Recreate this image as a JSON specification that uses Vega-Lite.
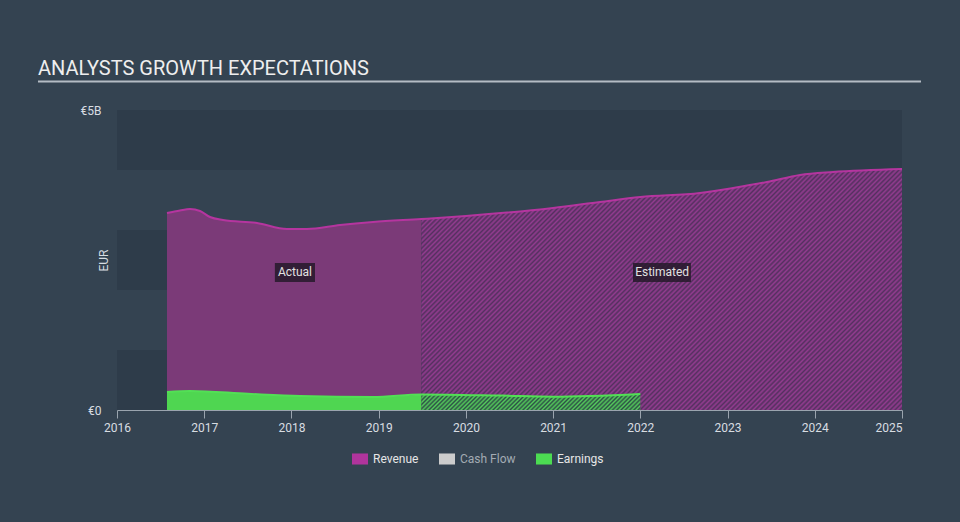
{
  "$schema": "https://vega.github.io/schema/vega-lite/v6.json",
  "width": 785,
  "height": 300,
  "autosize": {"type": "none"},
  "padding": {"left": 117, "top": 110, "right": 58, "bottom": 112},
  "background": "#344351",
  "config": {
    "view": {"stroke": null},
    "font": "Roboto",
    "axis": {
      "grid": false,
      "domainColor": "#9aa4ae",
      "tickColor": "#9aa4ae",
      "labelColor": "#d8dde2",
      "labelFont": "Roboto",
      "labelFontSize": 12,
      "titleFont": "Roboto",
      "titleFontSize": 12,
      "titleFontWeight": "normal",
      "titleColor": "#d8dde2"
    },
    "legend": {
      "orient": "none",
      "legendX": 235,
      "legendY": 341,
      "direction": "horizontal",
      "symbolType": "M-1,-0.69H1V0.69H-1Z",
      "symbolSize": 256,
      "symbolStrokeWidth": 0,
      "symbolOpacity": 1,
      "labelFont": "Roboto",
      "labelFontSize": 12,
      "labelColor": "#e6e6e6",
      "labelOffset": 5,
      "columnPadding": 20
    }
  },
  "title": {
    "text": "ANALYSTS GROWTH EXPECTATIONS",
    "anchor": "start",
    "frame": "group",
    "dx": -79,
    "offset": 2,
    "font": "Roboto",
    "fontSize": 20,
    "fontWeight": "normal",
    "color": "#eeeeee"
  },
  "datasets": {
    "bands": [
      {"year": 2016, "year2": 2025, "v": 0, "v2": 1},
      {"year": 2016, "year2": 2025, "v": 2, "v2": 3},
      {"year": 2016, "year2": 2025, "v": 4, "v2": 5}
    ],
    "rev": [
      {"year": 2016.573, "v": 3.283},
      {"year": 2016.722, "v": 3.325},
      {"year": 2016.837, "v": 3.35},
      {"year": 2016.952, "v": 3.317},
      {"year": 2017.066, "v": 3.217},
      {"year": 2017.215, "v": 3.167},
      {"year": 2017.605, "v": 3.117},
      {"year": 2017.949, "v": 3.017},
      {"year": 2018.178, "v": 3.017},
      {"year": 2018.557, "v": 3.083},
      {"year": 2018.935, "v": 3.133},
      {"year": 2019.49, "v": 3.183},
      {"year": 2020.0, "v": 3.233},
      {"year": 2021.0, "v": 3.367},
      {"year": 2021.538, "v": 3.467},
      {"year": 2022.0, "v": 3.55},
      {"year": 2022.684, "v": 3.617},
      {"year": 2023.063, "v": 3.7},
      {"year": 2023.453, "v": 3.8},
      {"year": 2023.831, "v": 3.917},
      {"year": 2024.209, "v": 3.967},
      {"year": 2025.0, "v": 4.017}
    ],
    "earn": [
      {"year": 2016.573, "v": 0.3},
      {"year": 2016.837, "v": 0.317},
      {"year": 2017.5, "v": 0.27},
      {"year": 2018.1, "v": 0.233},
      {"year": 2018.935, "v": 0.217},
      {"year": 2019.49, "v": 0.26},
      {"year": 2020.4, "v": 0.24},
      {"year": 2021.0, "v": 0.222},
      {"year": 2022.0, "v": 0.267}
    ],
    "boxes": [
      {"year": 2017.81, "year2": 2018.27, "v": 2.45, "v2": 2.133},
      {"year": 2021.916, "year2": 2022.58, "v": 2.45, "v2": 2.133}
    ],
    "labels": [
      {"year": 2018.04, "v": 2.3, "text": "Actual"},
      {"year": 2022.25, "v": 2.3, "text": "Estimated"}
    ],
    "rule": [
      {"year": 2015.094, "year2": 2025.218, "v": 5.475}
    ],
    "legend": [
      {"year": 2016, "v": 0, "series": "Revenue"}
    ]
  },
  "encoding": {
    "x": {
      "field": "year",
      "type": "quantitative",
      "title": null,
      "scale": {"domain": [2016, 2025], "nice": false, "zero": false},
      "axis": {
        "values": [2016, 2017, 2018, 2019, 2020, 2021, 2022, 2023, 2024, 2025],
        "format": "d",
        "tickSize": 8,
        "labelPadding": 4,
        "labelFlush": false,
        "labelAlign": {"condition": {"test": "datum.value == 2025", "value": "right"}, "value": "center"}
      }
    },
    "y": {
      "field": "v",
      "type": "quantitative",
      "title": "EUR",
      "scale": {"domain": [0, 5], "nice": false, "zero": true},
      "axis": {
        "values": [0, 5],
        "labelExpr": "datum.value == 0 ? '€0' : '€' + datum.value + 'B'",
        "domain": false,
        "ticks": false,
        "labelPadding": 16,
        "titleX": -14,
        "titleY": 150,
        "titleAngle": 270,
        "titleBaseline": "middle"
      }
    }
  },
  "layer": [
    {
      "data": {"name": "bands"},
      "mark": {"type": "rect", "fill": "#2e3c4a"},
      "encoding": {
        "x2": {"field": "year2"},
        "y2": {"field": "v2"}
      }
    },
    {
      "data": {"name": "rev"},
      "transform": [{"filter": "datum.year <= 2019.49"}],
      "mark": {"type": "area", "interpolate": "monotone", "fill": "#7b3a78"}
    },
    {
      "data": {"name": "rev"},
      "transform": [{"filter": "datum.year >= 2019.49"}],
      "mark": {
        "type": "area",
        "interpolate": "monotone",
        "fill": {
          "gradient": "linear",
          "x1": 0, "y1": 0, "x2": 1.2, "y2": 0.6013,
          "stops": [
            {"offset": 0, "color": "#933c90"}, {"offset": 0.0033, "color": "#54305f"}, {"offset": 0.0067, "color": "#933c90"}, {"offset": 0.01, "color": "#54305f"}, {"offset": 0.0133, "color": "#933c90"}, {"offset": 0.0167, "color": "#54305f"},
            {"offset": 0.02, "color": "#933c90"}, {"offset": 0.0233, "color": "#54305f"}, {"offset": 0.0267, "color": "#933c90"}, {"offset": 0.03, "color": "#54305f"}, {"offset": 0.0333, "color": "#933c90"}, {"offset": 0.0367, "color": "#54305f"},
            {"offset": 0.04, "color": "#933c90"}, {"offset": 0.0433, "color": "#54305f"}, {"offset": 0.0467, "color": "#933c90"}, {"offset": 0.05, "color": "#54305f"}, {"offset": 0.0533, "color": "#933c90"}, {"offset": 0.0567, "color": "#54305f"},
            {"offset": 0.06, "color": "#933c90"}, {"offset": 0.0633, "color": "#54305f"}, {"offset": 0.0667, "color": "#933c90"}, {"offset": 0.07, "color": "#54305f"}, {"offset": 0.0733, "color": "#933c90"}, {"offset": 0.0767, "color": "#54305f"},
            {"offset": 0.08, "color": "#933c90"}, {"offset": 0.0833, "color": "#54305f"}, {"offset": 0.0867, "color": "#933c90"}, {"offset": 0.09, "color": "#54305f"}, {"offset": 0.0933, "color": "#933c90"}, {"offset": 0.0967, "color": "#54305f"},
            {"offset": 0.10, "color": "#933c90"}, {"offset": 0.1033, "color": "#54305f"}, {"offset": 0.1067, "color": "#933c90"}, {"offset": 0.11, "color": "#54305f"}, {"offset": 0.1133, "color": "#933c90"}, {"offset": 0.1167, "color": "#54305f"},
            {"offset": 0.12, "color": "#933c90"}, {"offset": 0.1233, "color": "#54305f"}, {"offset": 0.1267, "color": "#933c90"}, {"offset": 0.13, "color": "#54305f"}, {"offset": 0.1333, "color": "#933c90"}, {"offset": 0.1367, "color": "#54305f"},
            {"offset": 0.14, "color": "#933c90"}, {"offset": 0.1433, "color": "#54305f"}, {"offset": 0.1467, "color": "#933c90"}, {"offset": 0.15, "color": "#54305f"}, {"offset": 0.1533, "color": "#933c90"}, {"offset": 0.1567, "color": "#54305f"},
            {"offset": 0.16, "color": "#933c90"}, {"offset": 0.1633, "color": "#54305f"}, {"offset": 0.1667, "color": "#933c90"}, {"offset": 0.17, "color": "#54305f"}, {"offset": 0.1733, "color": "#933c90"}, {"offset": 0.1767, "color": "#54305f"},
            {"offset": 0.18, "color": "#933c90"}, {"offset": 0.1833, "color": "#54305f"}, {"offset": 0.1867, "color": "#933c90"}, {"offset": 0.19, "color": "#54305f"}, {"offset": 0.1933, "color": "#933c90"}, {"offset": 0.1967, "color": "#54305f"},
            {"offset": 0.20, "color": "#933c90"}, {"offset": 0.2033, "color": "#54305f"}, {"offset": 0.2067, "color": "#933c90"}, {"offset": 0.21, "color": "#54305f"}, {"offset": 0.2133, "color": "#933c90"}, {"offset": 0.2167, "color": "#54305f"},
            {"offset": 0.22, "color": "#933c90"}, {"offset": 0.2233, "color": "#54305f"}, {"offset": 0.2267, "color": "#933c90"}, {"offset": 0.23, "color": "#54305f"}, {"offset": 0.2333, "color": "#933c90"}, {"offset": 0.2367, "color": "#54305f"},
            {"offset": 0.24, "color": "#933c90"}, {"offset": 0.2433, "color": "#54305f"}, {"offset": 0.2467, "color": "#933c90"}, {"offset": 0.25, "color": "#54305f"}, {"offset": 0.2533, "color": "#933c90"}, {"offset": 0.2567, "color": "#54305f"},
            {"offset": 0.26, "color": "#933c90"}, {"offset": 0.2633, "color": "#54305f"}, {"offset": 0.2667, "color": "#933c90"}, {"offset": 0.27, "color": "#54305f"}, {"offset": 0.2733, "color": "#933c90"}, {"offset": 0.2767, "color": "#54305f"},
            {"offset": 0.28, "color": "#933c90"}, {"offset": 0.2833, "color": "#54305f"}, {"offset": 0.2867, "color": "#933c90"}, {"offset": 0.29, "color": "#54305f"}, {"offset": 0.2933, "color": "#933c90"}, {"offset": 0.2967, "color": "#54305f"},
            {"offset": 0.30, "color": "#933c90"}, {"offset": 0.3033, "color": "#54305f"}, {"offset": 0.3067, "color": "#933c90"}, {"offset": 0.31, "color": "#54305f"}, {"offset": 0.3133, "color": "#933c90"}, {"offset": 0.3167, "color": "#54305f"},
            {"offset": 0.32, "color": "#933c90"}, {"offset": 0.3233, "color": "#54305f"}, {"offset": 0.3267, "color": "#933c90"}, {"offset": 0.33, "color": "#54305f"}, {"offset": 0.3333, "color": "#933c90"}, {"offset": 0.3367, "color": "#54305f"},
            {"offset": 0.34, "color": "#933c90"}, {"offset": 0.3433, "color": "#54305f"}, {"offset": 0.3467, "color": "#933c90"}, {"offset": 0.35, "color": "#54305f"}, {"offset": 0.3533, "color": "#933c90"}, {"offset": 0.3567, "color": "#54305f"},
            {"offset": 0.36, "color": "#933c90"}, {"offset": 0.3633, "color": "#54305f"}, {"offset": 0.3667, "color": "#933c90"}, {"offset": 0.37, "color": "#54305f"}, {"offset": 0.3733, "color": "#933c90"}, {"offset": 0.3767, "color": "#54305f"},
            {"offset": 0.38, "color": "#933c90"}, {"offset": 0.3833, "color": "#54305f"}, {"offset": 0.3867, "color": "#933c90"}, {"offset": 0.39, "color": "#54305f"}, {"offset": 0.3933, "color": "#933c90"}, {"offset": 0.3967, "color": "#54305f"},
            {"offset": 0.40, "color": "#933c90"}, {"offset": 0.4033, "color": "#54305f"}, {"offset": 0.4067, "color": "#933c90"}, {"offset": 0.41, "color": "#54305f"}, {"offset": 0.4133, "color": "#933c90"}, {"offset": 0.4167, "color": "#54305f"},
            {"offset": 0.42, "color": "#933c90"}, {"offset": 0.4233, "color": "#54305f"}, {"offset": 0.4267, "color": "#933c90"}, {"offset": 0.43, "color": "#54305f"}, {"offset": 0.4333, "color": "#933c90"}, {"offset": 0.4367, "color": "#54305f"},
            {"offset": 0.44, "color": "#933c90"}, {"offset": 0.4433, "color": "#54305f"}, {"offset": 0.4467, "color": "#933c90"}, {"offset": 0.45, "color": "#54305f"}, {"offset": 0.4533, "color": "#933c90"}, {"offset": 0.4567, "color": "#54305f"},
            {"offset": 0.46, "color": "#933c90"}, {"offset": 0.4633, "color": "#54305f"}, {"offset": 0.4667, "color": "#933c90"}, {"offset": 0.47, "color": "#54305f"}, {"offset": 0.4733, "color": "#933c90"}, {"offset": 0.4767, "color": "#54305f"},
            {"offset": 0.48, "color": "#933c90"}, {"offset": 0.4833, "color": "#54305f"}, {"offset": 0.4867, "color": "#933c90"}, {"offset": 0.49, "color": "#54305f"}, {"offset": 0.4933, "color": "#933c90"}, {"offset": 0.4967, "color": "#54305f"},
            {"offset": 0.50, "color": "#933c90"}, {"offset": 0.5033, "color": "#54305f"}, {"offset": 0.5067, "color": "#933c90"}, {"offset": 0.51, "color": "#54305f"}, {"offset": 0.5133, "color": "#933c90"}, {"offset": 0.5167, "color": "#54305f"},
            {"offset": 0.52, "color": "#933c90"}, {"offset": 0.5233, "color": "#54305f"}, {"offset": 0.5267, "color": "#933c90"}, {"offset": 0.53, "color": "#54305f"}, {"offset": 0.5333, "color": "#933c90"}, {"offset": 0.5367, "color": "#54305f"},
            {"offset": 0.54, "color": "#933c90"}, {"offset": 0.5433, "color": "#54305f"}, {"offset": 0.5467, "color": "#933c90"}, {"offset": 0.55, "color": "#54305f"}, {"offset": 0.5533, "color": "#933c90"}, {"offset": 0.5567, "color": "#54305f"},
            {"offset": 0.56, "color": "#933c90"}, {"offset": 0.5633, "color": "#54305f"}, {"offset": 0.5667, "color": "#933c90"}, {"offset": 0.57, "color": "#54305f"}, {"offset": 0.5733, "color": "#933c90"}, {"offset": 0.5767, "color": "#54305f"},
            {"offset": 0.58, "color": "#933c90"}, {"offset": 0.5833, "color": "#54305f"}, {"offset": 0.5867, "color": "#933c90"}, {"offset": 0.59, "color": "#54305f"}, {"offset": 0.5933, "color": "#933c90"}, {"offset": 0.5967, "color": "#54305f"},
            {"offset": 0.60, "color": "#933c90"}, {"offset": 0.6033, "color": "#54305f"}, {"offset": 0.6067, "color": "#933c90"}, {"offset": 0.61, "color": "#54305f"}, {"offset": 0.6133, "color": "#933c90"}, {"offset": 0.6167, "color": "#54305f"},
            {"offset": 0.62, "color": "#933c90"}, {"offset": 0.6233, "color": "#54305f"}, {"offset": 0.6267, "color": "#933c90"}, {"offset": 0.63, "color": "#54305f"}, {"offset": 0.6333, "color": "#933c90"}, {"offset": 0.6367, "color": "#54305f"},
            {"offset": 0.64, "color": "#933c90"}, {"offset": 0.6433, "color": "#54305f"}, {"offset": 0.6467, "color": "#933c90"}, {"offset": 0.65, "color": "#54305f"}, {"offset": 0.6533, "color": "#933c90"}, {"offset": 0.6567, "color": "#54305f"},
            {"offset": 0.66, "color": "#933c90"}, {"offset": 0.6633, "color": "#54305f"}, {"offset": 0.6667, "color": "#933c90"}, {"offset": 0.67, "color": "#54305f"}, {"offset": 0.6733, "color": "#933c90"}, {"offset": 0.6767, "color": "#54305f"},
            {"offset": 0.68, "color": "#933c90"}, {"offset": 0.6833, "color": "#54305f"}, {"offset": 0.6867, "color": "#933c90"}, {"offset": 0.69, "color": "#54305f"}, {"offset": 0.6933, "color": "#933c90"}, {"offset": 0.6967, "color": "#54305f"},
            {"offset": 0.70, "color": "#933c90"}, {"offset": 0.7033, "color": "#54305f"}, {"offset": 0.7067, "color": "#933c90"}, {"offset": 0.71, "color": "#54305f"}, {"offset": 0.7133, "color": "#933c90"}, {"offset": 0.7167, "color": "#54305f"},
            {"offset": 0.72, "color": "#933c90"}, {"offset": 0.7233, "color": "#54305f"}, {"offset": 0.7267, "color": "#933c90"}, {"offset": 0.73, "color": "#54305f"}, {"offset": 0.7333, "color": "#933c90"}, {"offset": 0.7367, "color": "#54305f"},
            {"offset": 0.74, "color": "#933c90"}, {"offset": 0.7433, "color": "#54305f"}, {"offset": 0.7467, "color": "#933c90"}, {"offset": 0.75, "color": "#54305f"}, {"offset": 0.7533, "color": "#933c90"}, {"offset": 0.7567, "color": "#54305f"},
            {"offset": 0.76, "color": "#933c90"}, {"offset": 0.7633, "color": "#54305f"}, {"offset": 0.7667, "color": "#933c90"}, {"offset": 0.77, "color": "#54305f"}, {"offset": 0.7733, "color": "#933c90"}, {"offset": 0.7767, "color": "#54305f"},
            {"offset": 0.78, "color": "#933c90"}, {"offset": 0.7833, "color": "#54305f"}, {"offset": 0.7867, "color": "#933c90"}, {"offset": 0.79, "color": "#54305f"}, {"offset": 0.7933, "color": "#933c90"}, {"offset": 0.7967, "color": "#54305f"},
            {"offset": 0.80, "color": "#933c90"}, {"offset": 0.8033, "color": "#54305f"}, {"offset": 0.8067, "color": "#933c90"}, {"offset": 0.81, "color": "#54305f"}, {"offset": 0.8133, "color": "#933c90"}, {"offset": 0.8167, "color": "#54305f"},
            {"offset": 0.82, "color": "#933c90"}, {"offset": 0.8233, "color": "#54305f"}, {"offset": 0.8267, "color": "#933c90"}, {"offset": 0.83, "color": "#54305f"}, {"offset": 0.8333, "color": "#933c90"}, {"offset": 0.8367, "color": "#54305f"},
            {"offset": 0.84, "color": "#933c90"}, {"offset": 0.8433, "color": "#54305f"}, {"offset": 0.8467, "color": "#933c90"}, {"offset": 0.85, "color": "#54305f"}, {"offset": 0.8533, "color": "#933c90"}, {"offset": 0.8567, "color": "#54305f"},
            {"offset": 0.86, "color": "#933c90"}, {"offset": 0.8633, "color": "#54305f"}, {"offset": 0.8667, "color": "#933c90"}, {"offset": 0.87, "color": "#54305f"}, {"offset": 0.8733, "color": "#933c90"}, {"offset": 0.8767, "color": "#54305f"},
            {"offset": 0.88, "color": "#933c90"}, {"offset": 0.8833, "color": "#54305f"}, {"offset": 0.8867, "color": "#933c90"}, {"offset": 0.89, "color": "#54305f"}, {"offset": 0.8933, "color": "#933c90"}, {"offset": 0.8967, "color": "#54305f"},
            {"offset": 0.90, "color": "#933c90"}, {"offset": 0.9033, "color": "#54305f"}, {"offset": 0.9067, "color": "#933c90"}, {"offset": 0.91, "color": "#54305f"}, {"offset": 0.9133, "color": "#933c90"}, {"offset": 0.9167, "color": "#54305f"},
            {"offset": 0.92, "color": "#933c90"}, {"offset": 0.9233, "color": "#54305f"}, {"offset": 0.9267, "color": "#933c90"}, {"offset": 0.93, "color": "#54305f"}, {"offset": 0.9333, "color": "#933c90"}, {"offset": 0.9367, "color": "#54305f"},
            {"offset": 0.94, "color": "#933c90"}, {"offset": 0.9433, "color": "#54305f"}, {"offset": 0.9467, "color": "#933c90"}, {"offset": 0.95, "color": "#54305f"}, {"offset": 0.9533, "color": "#933c90"}, {"offset": 0.9567, "color": "#54305f"},
            {"offset": 0.96, "color": "#933c90"}, {"offset": 0.9633, "color": "#54305f"}, {"offset": 0.9667, "color": "#933c90"}, {"offset": 0.97, "color": "#54305f"}, {"offset": 0.9733, "color": "#933c90"}, {"offset": 0.9767, "color": "#54305f"},
            {"offset": 0.98, "color": "#933c90"}, {"offset": 0.9833, "color": "#54305f"}, {"offset": 0.9867, "color": "#933c90"}, {"offset": 0.99, "color": "#54305f"}, {"offset": 0.9933, "color": "#933c90"}, {"offset": 0.9967, "color": "#54305f"},
            {"offset": 1, "color": "#933c90"}
          ]
        }
      }
    },
    {
      "data": {"name": "earn"},
      "transform": [{"filter": "datum.year <= 2019.49"}],
      "mark": {"type": "area", "interpolate": "monotone", "fill": "#4fd651"}
    },
    {
      "data": {"name": "earn"},
      "transform": [{"filter": "datum.year >= 2019.49"}],
      "mark": {
        "type": "area",
        "interpolate": "monotone",
        "fill": {
          "gradient": "linear",
          "x1": 0, "y1": 0, "x2": 1.067, "y2": 0.078,
          "stops": [
            {"offset": 0, "color": "#55cc5c"}, {"offset": 0.0091, "color": "#2d5046"}, {"offset": 0.0182, "color": "#55cc5c"}, {"offset": 0.0273, "color": "#2d5046"}, {"offset": 0.0364, "color": "#55cc5c"}, {"offset": 0.0455, "color": "#2d5046"}, {"offset": 0.0545, "color": "#55cc5c"}, {"offset": 0.0636, "color": "#2d5046"}, {"offset": 0.0727, "color": "#55cc5c"}, {"offset": 0.0818, "color": "#2d5046"}, {"offset": 0.0909, "color": "#55cc5c"},
            {"offset": 0.1, "color": "#2d5046"}, {"offset": 0.1091, "color": "#55cc5c"}, {"offset": 0.1182, "color": "#2d5046"}, {"offset": 0.1273, "color": "#55cc5c"}, {"offset": 0.1364, "color": "#2d5046"}, {"offset": 0.1455, "color": "#55cc5c"}, {"offset": 0.1545, "color": "#2d5046"}, {"offset": 0.1636, "color": "#55cc5c"}, {"offset": 0.1727, "color": "#2d5046"}, {"offset": 0.1818, "color": "#55cc5c"}, {"offset": 0.1909, "color": "#2d5046"},
            {"offset": 0.2, "color": "#55cc5c"}, {"offset": 0.2091, "color": "#2d5046"}, {"offset": 0.2182, "color": "#55cc5c"}, {"offset": 0.2273, "color": "#2d5046"}, {"offset": 0.2364, "color": "#55cc5c"}, {"offset": 0.2455, "color": "#2d5046"}, {"offset": 0.2545, "color": "#55cc5c"}, {"offset": 0.2636, "color": "#2d5046"}, {"offset": 0.2727, "color": "#55cc5c"}, {"offset": 0.2818, "color": "#2d5046"}, {"offset": 0.2909, "color": "#55cc5c"},
            {"offset": 0.3, "color": "#2d5046"}, {"offset": 0.3091, "color": "#55cc5c"}, {"offset": 0.3182, "color": "#2d5046"}, {"offset": 0.3273, "color": "#55cc5c"}, {"offset": 0.3364, "color": "#2d5046"}, {"offset": 0.3455, "color": "#55cc5c"}, {"offset": 0.3545, "color": "#2d5046"}, {"offset": 0.3636, "color": "#55cc5c"}, {"offset": 0.3727, "color": "#2d5046"}, {"offset": 0.3818, "color": "#55cc5c"}, {"offset": 0.3909, "color": "#2d5046"},
            {"offset": 0.4, "color": "#55cc5c"}, {"offset": 0.4091, "color": "#2d5046"}, {"offset": 0.4182, "color": "#55cc5c"}, {"offset": 0.4273, "color": "#2d5046"}, {"offset": 0.4364, "color": "#55cc5c"}, {"offset": 0.4455, "color": "#2d5046"}, {"offset": 0.4545, "color": "#55cc5c"}, {"offset": 0.4636, "color": "#2d5046"}, {"offset": 0.4727, "color": "#55cc5c"}, {"offset": 0.4818, "color": "#2d5046"}, {"offset": 0.4909, "color": "#55cc5c"},
            {"offset": 0.5, "color": "#2d5046"}, {"offset": 0.5091, "color": "#55cc5c"}, {"offset": 0.5182, "color": "#2d5046"}, {"offset": 0.5273, "color": "#55cc5c"}, {"offset": 0.5364, "color": "#2d5046"}, {"offset": 0.5455, "color": "#55cc5c"}, {"offset": 0.5545, "color": "#2d5046"}, {"offset": 0.5636, "color": "#55cc5c"}, {"offset": 0.5727, "color": "#2d5046"}, {"offset": 0.5818, "color": "#55cc5c"}, {"offset": 0.5909, "color": "#2d5046"},
            {"offset": 0.6, "color": "#55cc5c"}, {"offset": 0.6091, "color": "#2d5046"}, {"offset": 0.6182, "color": "#55cc5c"}, {"offset": 0.6273, "color": "#2d5046"}, {"offset": 0.6364, "color": "#55cc5c"}, {"offset": 0.6455, "color": "#2d5046"}, {"offset": 0.6545, "color": "#55cc5c"}, {"offset": 0.6636, "color": "#2d5046"}, {"offset": 0.6727, "color": "#55cc5c"}, {"offset": 0.6818, "color": "#2d5046"}, {"offset": 0.6909, "color": "#55cc5c"},
            {"offset": 0.7, "color": "#2d5046"}, {"offset": 0.7091, "color": "#55cc5c"}, {"offset": 0.7182, "color": "#2d5046"}, {"offset": 0.7273, "color": "#55cc5c"}, {"offset": 0.7364, "color": "#2d5046"}, {"offset": 0.7455, "color": "#55cc5c"}, {"offset": 0.7545, "color": "#2d5046"}, {"offset": 0.7636, "color": "#55cc5c"}, {"offset": 0.7727, "color": "#2d5046"}, {"offset": 0.7818, "color": "#55cc5c"}, {"offset": 0.7909, "color": "#2d5046"},
            {"offset": 0.8, "color": "#55cc5c"}, {"offset": 0.8091, "color": "#2d5046"}, {"offset": 0.8182, "color": "#55cc5c"}, {"offset": 0.8273, "color": "#2d5046"}, {"offset": 0.8364, "color": "#55cc5c"}, {"offset": 0.8455, "color": "#2d5046"}, {"offset": 0.8545, "color": "#55cc5c"}, {"offset": 0.8636, "color": "#2d5046"}, {"offset": 0.8727, "color": "#55cc5c"}, {"offset": 0.8818, "color": "#2d5046"}, {"offset": 0.8909, "color": "#55cc5c"},
            {"offset": 0.9, "color": "#2d5046"}, {"offset": 0.9091, "color": "#55cc5c"}, {"offset": 0.9182, "color": "#2d5046"}, {"offset": 0.9273, "color": "#55cc5c"}, {"offset": 0.9364, "color": "#2d5046"}, {"offset": 0.9455, "color": "#55cc5c"}, {"offset": 0.9545, "color": "#2d5046"}, {"offset": 0.9636, "color": "#55cc5c"}, {"offset": 0.9727, "color": "#2d5046"}, {"offset": 0.9818, "color": "#55cc5c"}, {"offset": 0.9909, "color": "#2d5046"},
            {"offset": 1, "color": "#55cc5c"}
          ]
        }
      }
    },
    {
      "data": {"name": "rev"},
      "mark": {"type": "line", "interpolate": "monotone", "stroke": "#b5359f", "strokeWidth": 2}
    },
    {
      "data": {"name": "earn"},
      "mark": {"type": "line", "interpolate": "monotone", "stroke": "#52e055", "strokeWidth": 2}
    },
    {
      "data": {"name": "boxes"},
      "mark": {"type": "rect", "fill": "#261a2a", "opacity": 0.85},
      "encoding": {
        "x2": {"field": "year2"},
        "y2": {"field": "v2"}
      }
    },
    {
      "data": {"name": "labels"},
      "mark": {"type": "text", "font": "Roboto", "fontSize": 12, "color": "#e2e2e2", "align": "center", "baseline": "middle"},
      "encoding": {"text": {"field": "text"}}
    },
    {
      "data": {"name": "rule"},
      "mark": {"type": "rule", "stroke": "#b4bcc4", "strokeWidth": 2, "clip": false},
      "encoding": {"x2": {"field": "year2"}}
    },
    {
      "data": {"name": "legend"},
      "transform": [{"filter": "false"}],
      "mark": {"type": "square", "filled": true, "opacity": 1},
      "encoding": {
        "color": {
          "field": "series",
          "type": "nominal",
          "scale": {"domain": ["Revenue", "Cash Flow", "Earnings"], "range": ["#b0349c", "#cccccc", "#4cdc52"]},
          "legend": {
            "title": null,
            "symbolOpacity": 1,
            "encode": {
              "labels": {"update": {"fill": [{"test": "datum.label === 'Cash Flow'", "value": "#a3abb3"}, {"value": "#e6e6e6"}]}}
            }
          }
        }
      }
    }
  ]
}
